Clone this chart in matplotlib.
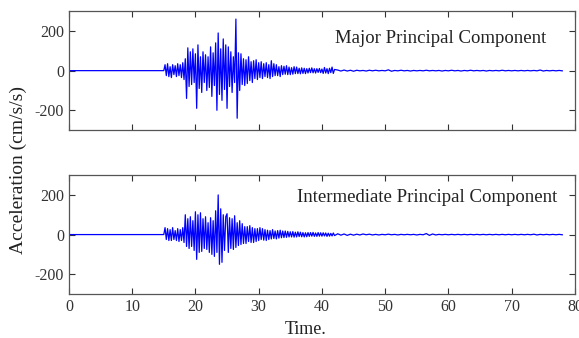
import numpy as np
import matplotlib.pyplot as plt

plt.rcParams['font.family'] = ['Liberation Serif', 'DejaVu Serif']
plt.rcParams['axes.unicode_minus'] = False

# sampling of the strong-motion part and the tail
t_start = 15.0
dt = 0.2
tail_start = 42.5
tail_dt = 0.5

# quiet part before the first arrival
pre_t = [0.0, 15.0]
pre_a = [0.0, 0.0]

major = [0, 30, -25, 35, -30,
         20, -35, 30, -20, 25,
         -30, 35, -25, 30, -35,
         40, -45, 60, -140, 115,
         -80, 95, -70, 110, -60,
         85, -190, 130, -90, 70,
         -110, 95, -60, 80, -100,
         70, -85, 120, -130, 90,
         -75, 140, -200, 190, -120,
         110, -150, 160, -95, 130,
         -190, 120, -80, 95, -110,
         70, -60, 260, -240, 90,
         -100, 85, -70, 60, -75,
         55, -65, 70, -50, 45,
         -60, 50, -40, 55, -45,
         40, -35, 45, -40, 35,
         -30, 40, -35, 30, -40,
         50, -30, 35, -25, 30,
         -25, 20, -30, 25, -20,
         22, -18, 25, -20, 18,
         -20, 15, -18, 20, -15,
         18, -15, 12, -16, 14,
         -14, 12, -15, 10, -12,
         12, -10, 14, -11, 10,
         -12, 10, -9, 11, -10,
         8, -14, 16, -12, 10,
         -15, 12, -10, 18, -14,
         6]

major_tail = [3, -2, 3, -2, 2, -3, 2, -1, 1, -2, 2, -1, 2, -1, 1, -1, 4, -3,
              1, -1, 2, -1, 1, -2, 1, -1, 1, -1, 2, -1, 1, -1, 1, -2, 1, -1,
              2, -1, 1, -2, 1, -1, 2, -1, 1, -1, 1, -2, 1, -1, 1, -1, 2, -1,
              1, -1, 1, -1, 1, -1, 1, -1, 1, -1, 3, -2, 1, -1, 1, -1, 1, -1]

inter = [0, 35, -25, 30, -30,
         25, -30, 35, -25, 20,
         -30, 30, -35, 25, -30,
         35, -40, 100, -60, 80,
         -70, 90, -60, 70, -80,
         115, -125, 100, -90, 110,
         -85, 80, -70, 90, -75,
         60, -90, 85, -100, 70,
         -110, 120, -90, 200, -150,
         130, -140, 100, -80, 90,
         105, -90, 85, -70, 80,
         -75, 95, -65, 60, -55,
         70, -50, 55, -45, 40,
         -45, 40, -35, 45, -40,
         35, -40, 30, -35, 30,
         -30, 35, -25, 30, -28,
         25, -30, 22, -25, 20,
         -22, 25, -20, 18, -22,
         20, -18, 22, -16, 18,
         -15, 18, -14, 16, -12,
         14, -12, 15, -13, 12,
         -12, 14, -10, 12, -11,
         10, -12, 9, -11, 10,
         -9, 10, -8, 11, -9,
         8, -9, 10, -8, 9,
         -8, 9, -7, 8, -9,
         7, -8, 6, -7, 8,
         -5]

inter_tail = [4, -3, 3, -4, 2, -3, 2, -2, 3, -1, 2, -2, 1, -2, 1, -1, 2, -1,
              1, -2, 1, -1, 1, -1, 1, -2, 1, -1, 5, -4, 3, -2, 1, -1, 1, -1,
              1, -1, 1, -1, 1, -1, 1, -1, 1, -1, 1, -1, 1, -1, 1, -1, 1, -1,
              1, -1, 1, -1, 1, -1, 1, -1, 2, -2, 1, -1, 1, -1, 1, -1, 1, -1]

labels = ['Major Principal Component', 'Intermediate Principal Component']
xticks = [0, 10, 20, 30, 40, 50, 60, 70, 80]
yticks = [-200, 0, 200]


def build(vals, tail):
    t = list(pre_t) + list(t_start + dt * np.arange(len(vals))) + \
        list(tail_start + tail_dt * np.arange(len(tail)))
    a = list(pre_a) + list(vals) + list(tail)
    return t, a


fig = plt.figure(figsize=(5.79, 3.38), dpi=100)
ax1 = fig.add_axes([0.119, 0.615, 0.874, 0.352])
ax2 = fig.add_axes([0.119, 0.130, 0.874, 0.352])

for ax, vals, tail, lab, tx, ty in [(ax1, major, major_tail, labels[0], 75.4, 0.77),
                                    (ax2, inter, inter_tail, labels[1], 77.2, 0.81)]:
    t, a = build(vals, tail)
    ax.plot(t, a, color='#0000ff', lw=0.9)
    ax.set_xlim(0, 80)
    ax.set_ylim(-300, 300)
    ax.set_xticks(xticks)
    ax.set_yticks(yticks)
    ax.tick_params(direction='in', top=True, right=True, length=4,
                   labelsize=11.5, colors='#333333', width=0.8)
    for s in ax.spines.values():
        s.set_color('#555555')
        s.set_linewidth(0.9)
    ax.text(tx, ty, lab, transform=ax.get_xaxis_transform(), ha='right',
            va='center', fontsize=13.5, color='#222222')

ax1.set_xticklabels([])
ax2.set_xticklabels([str(v) for v in xticks])

fig.text(0.031, 0.497, 'Acceleration (cm/s/s)', rotation=90, ha='center',
         va='center', fontsize=14, color='#222222')
fig.text(0.527, 0.025, 'Time.', ha='center', va='center', fontsize=13,
         color='#222222')

fig.savefig('out.png', dpi=100)
